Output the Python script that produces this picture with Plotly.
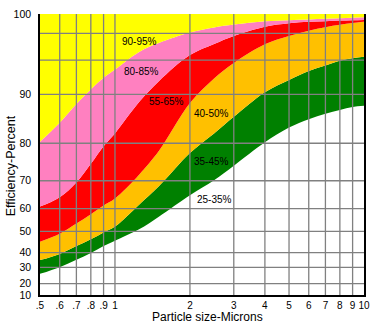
import numpy as np
import plotly.graph_objects as go

# Particle sizes (microns) at which the band edges are tabulated
particle_um = [0.5, 0.6, 0.7, 0.8, 0.9, 1.0, 1.25, 1.5, 2.0, 2.5, 3.0, 4.0, 5.0, 6.0, 7.0, 8.0, 9.0, 10.0]

# Upper edge (fractional efficiency, %) of each filter-rating band
edge_25_35 = [26.0, 30.1, 35.1, 39.8, 43.1, 45.6, 50.9, 56.4, 64.8, 70.1, 74.0, 80.2, 83.2, 84.9, 86.0, 86.8, 87.4, 87.66]
edge_35_45 = [34.9, 39.1, 43.1, 46.3, 49.5, 52.1, 61.4, 68.0, 77.4, 82.0, 85.4, 90.3, 92.1, 93.4, 94.2, 94.9, 95.2, 95.36]
edge_40_50 = [45.1, 48.85, 53.4, 57.5, 61.1, 63.6, 71.6, 77.9, 88.2, 92.3, 94.57, 96.76, 97.7, 98.27, 98.63, 98.88, 99.06, 99.19]
edge_55_65 = [60.7, 64.1, 69.4, 74.5, 79.2, 82.0, 88.4, 91.9, 95.55, 96.8, 97.7, 98.68, 99.04, 99.2, 99.26, 99.32, 99.36, 99.39]
edge_80_85 = [80.3, 84.2, 88.0, 90.7, 92.4, 93.6, 95.9, 96.9, 98.07, 98.6, 98.9, 99.24, 99.36, 99.44, 99.51, 99.56, 99.61, 99.66]

band_names = ["25-35%", "35-45%", "40-50%", "55-65%", "80-85%", "90-95%"]
band_colors = ["#FFFFFF", "#008000", "#FFC000", "#FF0000", "#FF80C0", "#FFFF00"]
label_um = [2.5, 2.44, 2.44, 1.61, 1.28, 1.25]
label_eff = [63.2, 75.2, 86.1, 88.5, 93.3, 97.1]

y_ticks = [10, 20, 30, 40, 50, 60, 70, 80, 90, 100]
x_ticks = [0.5, 0.6, 0.7, 0.8, 0.9, 1, 2, 3, 4, 5, 6, 7, 8, 9, 10]
x_tick_text = [".5", ".6", ".7", ".8", ".9", "1", "2", "3", "4", "5", "6", "7", "8", "9", "10"]
grid_eff = [20, 30, 40, 50, 60, 70, 80, 90, 95, 98]
grid_um = [0.6, 0.7, 0.8, 0.9, 1, 2, 3, 4, 5, 6, 7, 8, 9]

# Non-linear efficiency scale: efficiency (%) -> position along the y axis (0..100)
SCALE_EFF = [10, 20, 30, 40, 50, 60, 70, 80, 90, 95, 98, 100]
SCALE_POS = [0, 4.08, 9.86, 15.09, 22.65, 30.77, 40.66, 54.01, 71.43, 83.62, 93.14, 100]


def to_axis(eff):
    return np.interp(np.asarray(eff, dtype=float), SCALE_EFF, SCALE_POS)


fig = go.Figure()

floor = [SCALE_EFF[0]] * len(particle_um)
ceiling = [SCALE_EFF[-1]] * len(particle_um)
edges = [floor, edge_25_35, edge_35_45, edge_40_50, edge_55_65, edge_80_85, ceiling]

fig.add_trace(go.Scatter(x=particle_um, y=to_axis(floor), mode="lines",
                         line=dict(width=0), hoverinfo="skip", showlegend=False))
for i in range(1, len(edges)):
    fig.add_trace(go.Scatter(
        x=particle_um, y=to_axis(edges[i]), mode="lines",
        line=dict(width=0, shape="spline", smoothing=1.0),
        fill="tonexty", fillcolor=band_colors[i - 1],
        name=band_names[i - 1], hoverinfo="skip", showlegend=False))

# Grid drawn on top of the coloured bands
gx, gy = [], []
y_lo, y_hi = float(to_axis(SCALE_EFF[0])), float(to_axis(SCALE_EFF[-1]))
for v in grid_um:
    gx += [v, v, None]
    gy += [y_lo, y_hi, None]
for e in grid_eff:
    p = float(to_axis(e))
    gx += [x_ticks[0], x_ticks[-1], None]
    gy += [p, p, None]
fig.add_trace(go.Scatter(x=gx, y=gy, mode="lines", line=dict(color="#808080", width=1.3),
                         hoverinfo="skip", showlegend=False))

for name, xu, ye in zip(band_names, label_um, label_eff):
    fig.add_annotation(x=np.log10(xu), y=float(to_axis(ye)), xref="x", yref="y",
                       text=name, showarrow=False,
                       font=dict(size=10, color="black"))

fig.add_annotation(text="Particle size-Microns", xref="paper", yref="paper",
                   x=0.518, y=-0.08, xanchor="center", yanchor="middle",
                   showarrow=False, font=dict(size=12, color="black"))
fig.add_annotation(text="Efficiency-Percent", xref="paper", yref="paper",
                   x=-0.091, y=0.46, xanchor="center", yanchor="middle",
                   textangle=-90, showarrow=False, font=dict(size=12.5, color="black"))

fig.update_xaxes(type="log", range=[np.log10(x_ticks[0]), np.log10(x_ticks[-1])],
                 tickvals=x_ticks, ticktext=x_tick_text, ticks="",
                 showgrid=False, zeroline=False, showline=True, linecolor="black",
                 linewidth=1.5, layer="below traces", tickfont=dict(size=10, color="black"),
                 ticklabelstandoff=0)
fig.update_yaxes(range=[0, 100], tickvals=to_axis(y_ticks).tolist(),
                 ticktext=[str(v) for v in y_ticks], ticks="",
                 showgrid=False, zeroline=False, showline=True, mirror=True,
                 linecolor="black", linewidth=1.5, layer="below traces",
                 tickfont=dict(size=10.5, color="black"), ticklabelstandoff=5)

fig.update_layout(width=378, height=324, margin=dict(l=40, r=9, t=8, b=29),
                  plot_bgcolor="white", paper_bgcolor="white",
                  font=dict(family="Liberation Sans, Arial, sans-serif", color="black"),
                  showlegend=False)

fig.write_html("out.html")
